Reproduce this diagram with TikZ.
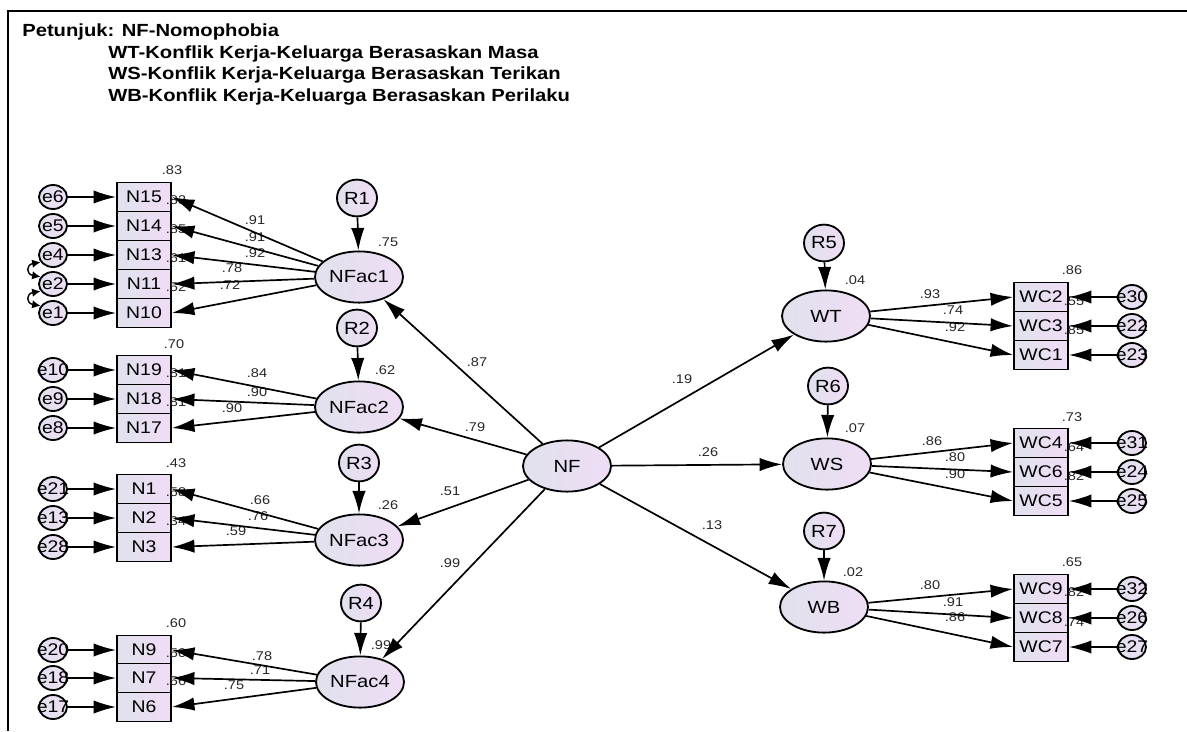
\documentclass[tikz,border=0pt]{standalone}
\usepackage{fontspec}
\setmainfont{Liberation Sans}[FakeStretch=1.15]
\usetikzlibrary{arrows.meta,shapes.geometric,positioning}

\definecolor{lavL}{RGB}{225,225,236}
\definecolor{lavR}{RGB}{239,221,246}
\newcommand{\ctr}[1]{\makebox[0pt]{#1}}

\begin{document}
\begin{tikzpicture}[x=0.025cm, y=-0.025cm,
    obs/.style={draw, line width=1.3pt, left color=lavL, right color=lavR,
      minimum width=1.35cm, minimum height=0.725cm, inner sep=0pt,
      font=\fontsize{12}{12}\selectfont},
    lat/.style={ellipse, draw, line width=1.3pt, left color=lavL, right color=lavR,
      minimum width=2.2cm, minimum height=1.28cm, inner sep=0pt,
      font=\fontsize{12.5}{12.5}\selectfont},
    res/.style={ellipse, draw, line width=1.3pt, left color=lavL, right color=lavR,
      minimum width=1.0cm, minimum height=0.92cm, inner sep=0pt,
      font=\fontsize{12.5}{12.5}\selectfont},
    err/.style={ellipse, draw, line width=1.3pt, left color=lavL, right color=lavR,
      minimum width=0.7cm, minimum height=0.6cm, inner sep=0pt,
      font=\fontsize{12}{12}\selectfont},
    est/.style={inner sep=0pt, font=\fontsize{9}{9}\selectfont, text=black!85},
    hd/.style={anchor=west, inner sep=0pt, font=\fontsize{12.5}{12.5}\selectfont\bfseries},
    path/.style={-{Latex[length=16pt,width=9.5pt]}, line width=1.2pt},
    cov/.style={{Latex[length=6pt,width=6pt]}-{Latex[length=6pt,width=6pt]}, line width=1pt}]

  \useasboundingbox (0,0) rectangle (1187,731);

  % Frame
  \draw[line width=1.8pt] (8,731) -- (8,11) -- (1187,11);

  % Legend
  \node[hd] (hd0) at (22,32) {Petunjuk: NF-Nomophobia};
  \node[hd] (hd1) at (108,54) {WT-Konflik Kerja-Keluarga Berasaskan Masa};
  \node[hd] (hd2) at (108,75) {WS-Konflik Kerja-Keluarga Berasaskan Terikan};
  \node[hd] (hd3) at (108,97) {WB-Konflik Kerja-Keluarga Berasaskan Perilaku};

  % Latent variables
  \node[lat] (NF) at (567,466) {NF};
  \node[lat] (NFac1) at (359,277) {NFac1};
  \node[lat] (NFac2) at (359,407) {NFac2};
  \node[lat] (NFac3) at (359,540) {NFac3};
  \node[lat] (NFac4) at (360,682) {NFac4};
  \node[lat] (WT) at (826,316) {WT};
  \node[lat] (WS) at (827,464) {WS};
  \node[lat] (WB) at (824,607) {WB};

  % Residuals
  \foreach \r/\x/\y in {R1/357/198, R2/357/328, R3/359/463, R4/361/603,
                        R5/824/243, R6/828/386, R7/824/531}
    \node[res] (\r) at (\x,\y) {\r};

  % Indicators left
  \foreach \n/\e/\y in {N15/e6/197, N14/e5/226, N13/e4/255, N11/e2/284, N10/e1/313,
                        N19/e10/370, N18/e9/399, N17/e8/428,
                        N1/e21/489, N2/e13/518, N3/e28/547,
                        N9/e20/650, N7/e18/678, N6/e17/707} {
    \node[obs] (\n) at (144,\y) {\n};
    \node[err] (\e) at (53,\y) {\ctr{\e}};
  }

  % Indicators right
  \foreach \n/\e/\y in {WC2/e30/297, WC3/e22/326, WC1/e23/355,
                        WC4/e31/443, WC6/e24/472, WC5/e25/501,
                        WC9/e32/589, WC8/e26/618, WC7/e27/647} {
    \node[obs] (\n) at (1041,\y) {\n};
    \node[err] (\e) at (1132,\y) {\ctr{\e}};
  }

  % Squared multiple correlations
  \foreach \x/\y/\v [count=\i] in {172/170/.83, 174/344/.70, 176/463/.43, 176/623/.60,
      176/200/.83, 176/229/.85, 176/258/.61, 176/287/.52,
      176/373/.81, 176/402/.81, 176/492/.58, 176/521/.34,
      176/653/.50, 176/681/.56,
      1072/270/.86, 1072/417/.73, 1072/562/.65,
      1074/301/.55, 1074/330/.85, 1074/447/.64, 1074/476/.82,
      1074/592/.82, 1074/622/.74,
      388/242/.75, 385/370/.62, 388/505/.26, 381/645/.99,
      855/280/.04, 855/428/.07, 853/572/.02}
    \node[est] (smc\i) at (\x,\y) {\v};

  % Loadings and structural weights
  \foreach \x/\y/\v [count=\i] in {255/220/.91, 255/237/.91, 255/253/.92, 232/268/.78, 230/285/.72,
      257/373/.84, 257/392/.90, 232/408/.90,
      260/500/.66, 258/516/.76, 236/531/.59,
      262/656/.78, 260/670/.71, 234/685/.75,
      930/294/.93, 953/310/.74, 955/327/.92,
      932/441/.86, 955/457/.80, 955/474/.90,
      930/585/.80, 953/602/.91, 955/617/.86,
      477/362/.87, 475/427/.79, 450/491/.51, 450/563/.99,
      682/379/.19, 708/452/.26, 712/525/.13}
    \node[est] (w\i) at (\x,\y) {\v};

  % Paths from NF
  \foreach \t in {NFac1,NFac2,NFac3,NFac4,WT,WS,WB}
    \draw[path] (NF) -- (\t);

  % Residual paths
  \foreach \r/\t in {R1/NFac1, R2/NFac2, R3/NFac3, R4/NFac4, R5/WT, R6/WS, R7/WB}
    \draw[path] (\r) -- (\t);

  % Loading paths
  \foreach \n in {N15,N14,N13,N11,N10}
    \draw[path] (NFac1) -- (\n.east);
  \foreach \n in {N19,N18,N17}
    \draw[path] (NFac2) -- (\n.east);
  \foreach \n in {N1,N2,N3}
    \draw[path] (NFac3) -- (\n.east);
  \foreach \n in {N9,N7,N6}
    \draw[path] (NFac4) -- (\n.east);
  \foreach \n in {WC2,WC3,WC1}
    \draw[path] (WT) -- (\n.west);
  \foreach \n in {WC4,WC6,WC5}
    \draw[path] (WS) -- (\n.west);
  \foreach \n in {WC9,WC8,WC7}
    \draw[path] (WB) -- (\n.west);

  % Error paths
  \foreach \e/\n in {e6/N15, e5/N14, e4/N13, e2/N11, e1/N10, e10/N19, e9/N18, e8/N17,
                     e21/N1, e13/N2, e28/N3, e20/N9, e18/N7, e17/N6,
                     e30/WC2, e22/WC3, e23/WC1, e31/WC4, e24/WC6, e25/WC5,
                     e32/WC9, e26/WC8, e27/WC7}
    \draw[path] (\e) -- (\n);

  % Covariances
  \draw[cov] (e4.210) to[out=190, in=170, looseness=2.6] (e2.150);
  \draw[cov] (e2.210) to[out=190, in=170, looseness=2.6] (e1.150);

\end{tikzpicture}
\end{document}
